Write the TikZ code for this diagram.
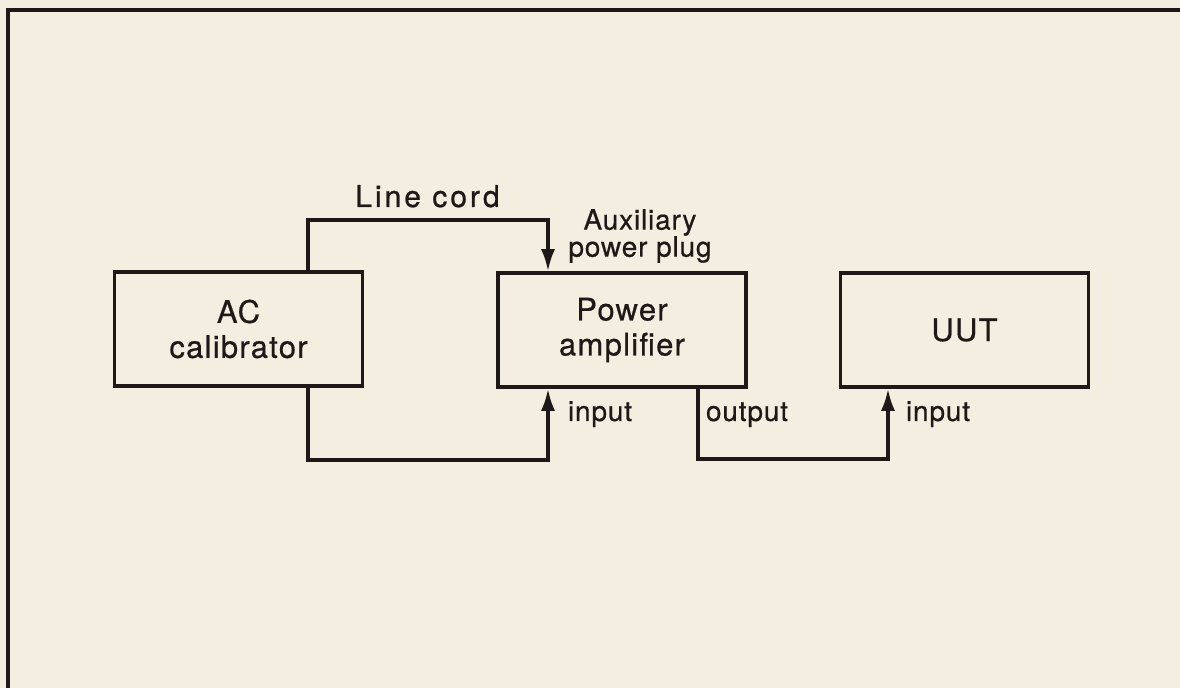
\documentclass[tikz,border=0pt]{standalone}
\usepackage{xcolor}
\usepackage{fontspec}
\usepackage{tikz}
\usetikzlibrary{arrows.meta}
\setmainfont{TeX Gyre Heros}
\newfontfamily\unitfont[LetterSpace=4,FakeBold=0.6]{TeX Gyre Heros}
\newfontfamily\tagfont[LetterSpace=3,FakeBold=0.6]{TeX Gyre Heros}
\newfontfamily\cordfont[LetterSpace=10,FakeBold=0.8]{TeX Gyre Heros}
\definecolor{paper}{RGB}{244,238,224}
\definecolor{ink}{RGB}{30,24,24}

\tikzset{
    unit/.style={draw=ink,line width=1.8pt,minimum width=124pt,minimum height=57pt,
        align=center,text=ink,font=\unitfont\fontsize{15.5}{17.5}\selectfont},
    wire/.style={draw=ink,line width=1.6pt},
    feed/.style={wire,-{Latex[length=11pt,width=7pt]}},
    tag/.style={text=ink,align=center,font=\tagfont\fontsize{14}{13.5}\selectfont}
}

\begin{document}
\begin{tikzpicture}[x=0.5pt,y=-0.5pt]
    \useasboundingbox (0,0) rectangle (1180,688);
    \fill[paper] (0,0) rectangle (1180,688);
    \draw[ink,line width=2pt] (8,688) -- (8,10) -- (1180,10);

    % the three instruments
    \node[unit] (cal) at (238.5,329) {AC\\calibrator};
    \node[unit] (amp) at (622,330) {Power\\amplifier};
    \node[unit] (uut) at (964.5,330) {UUT};

    % corners of the cables
    \coordinate (cordL) at (308,220);
    \coordinate (cordR) at (548,220);
    \coordinate (sigL) at (308,460);
    \coordinate (sigR) at (548,460);
    \coordinate (outL) at (698,459);
    \coordinate (outR) at (888,459);

    \draw[feed] (cal.north -| cordL) -- (cordL) -- (cordR) -- (amp.north -| cordR);
    \draw[feed] (cal.south -| sigL) -- (sigL) -- (sigR) -- (amp.south -| sigR);
    \draw[feed] (amp.south -| outL) -- (outL) -- (outR) -- (uut.south -| outR);

    % labels
    \node[tag,font=\cordfont\fontsize{15}{16}\selectfont,anchor=base] (cordtag) at (427.5,207) {Line cord};
    \node[tag] (plugtag) at (640,236) {Auxiliary\\power plug};
    \node[tag,anchor=base] (ampin) at (600,421) {input};
    \node[tag,anchor=base] (ampout) at (747,421) {output};
    \node[tag,anchor=base] (uutin) at (938,421) {input};
\end{tikzpicture}
\end{document}
